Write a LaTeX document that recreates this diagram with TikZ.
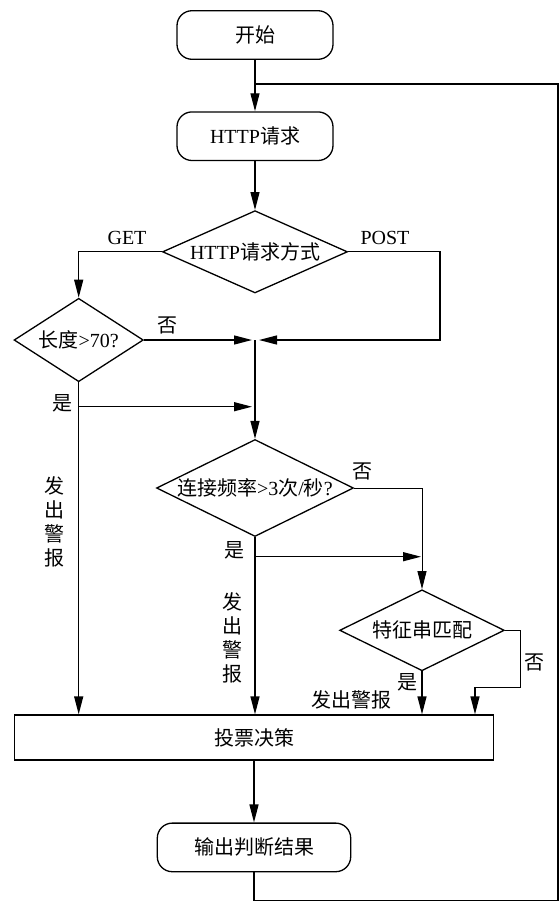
\documentclass[tikz,border=0pt]{standalone}
\usepackage{fontspec}
\setmainfont{Liberation Serif}
\newfontfamily\cjk{Noto Sans CJK SC}
\usetikzlibrary{shapes.geometric,arrows.meta,calc}
\begin{document}
\begin{tikzpicture}[x=1pt,y=-1pt,line width=1.3pt,
  font=\fontsize{20}{24}\selectfont,
  term/.style={draw,rounded corners=15pt,minimum width=156pt,minimum height=48.6pt,inner sep=0pt},
  dec/.style={draw,diamond,inner sep=0pt},
  votebox/.style={draw,rectangle,inner sep=0pt},
  arr/.style={-{Triangle[length=18pt,width=9pt]}},
  lbl/.style={inner sep=0pt},
  zh/.style={inner sep=0pt,font=\fontsize{20}{24}\selectfont\cjk,align=center}
]
\useasboundingbox (0,0) rectangle (560,903);

% nodes
\node[term] (start) at (255,35) {{\cjk 开始}};
\node[term] (http) at (255,136.2) {HTTP{\cjk 请求}};
\node[dec,minimum width=185pt,minimum height=82.3pt] (d1) at (255,251.8) {\makebox[0pt]{HTTP{\cjk 请求方式}}};
\node[dec,minimum width=129.3pt,minimum height=83.4pt] (d2) at (78.7,340) {\makebox[0pt]{{\cjk 长度}>70?}};
\node[dec,minimum width=197pt,minimum height=97pt] (d3) at (255,488) {\makebox[0pt]{{\cjk 连接频率}>3{\cjk 次}/{\cjk 秒}?}};
\node[dec,minimum width=164.7pt,minimum height=81pt] (d4) at (422,630.3) {\makebox[0pt]{\cjk 特征串匹配}};
\node[votebox,minimum width=478.6pt,minimum height=45pt] (vote) at (254,737.5) {{\cjk 投票决策}};
\node[term,minimum width=193.4pt] (out) at (254,847.4) {{\cjk 输出判断结果}};

% helper coordinates
\coordinate (fbA) at (255,84);
\coordinate (fbB) at (558,900.5);
\coordinate (m1) at (255,340);
\coordinate (postR) at (440,340);
\coordinate (yes1) at (78.7,406.7);
\coordinate (yes1e) at (252,406.7);
\coordinate (yes3) at (255,556.7);
\coordinate (yes3e) at (421,556.7);
\coordinate (no4a) at (520.7,687.3);
\coordinate (no4b) at (475,687.3);

% connectors
\draw[arr] (start) -- (http);
\draw (out.south) |- (fbB) |- (fbA);
\draw[arr] (http) -- (d1);
\draw[arr] (d1.west) -| (d2.north);
\draw[arr] (d1.east) -| (postR) -- ([xshift=4pt]m1);
\draw[arr] (d2.east) -- ([xshift=-3pt]m1);
\draw[arr] (m1) -- (d3.north);
\draw[arr] (d2.south) -- (d2.south |- vote.north);
\draw[arr] (yes1) -- (yes1e);
\draw[arr,line width=0.8pt] (d3.east) -| (d4.north);
\draw[arr] (d3.south) -- (d3.south |- vote.north);
\draw[arr] (yes3) -- (yes3e);
\draw[arr] (d4.south) -- (d4.south |- vote.north);
\draw[arr] (d4.east) -| (no4a) -- (no4b) -- (no4b |- vote.north);
\draw[arr] (vote) -- (out);

% labels
\node[lbl] (lget) at (127,237.5) {GET};
\node[lbl] (lpost) at (385,238) {POST};
\node[zh] (lno2) at (167,325) {否};
\node[zh] (lyes2) at (62,403) {是};
\node[zh] (lalarm1) at (54,522) {发\\出\\警\\报};
\node[zh] (lno3) at (362,471) {否};
\node[zh] (lyes3) at (234,550) {是};
\node[zh] (lalarm2) at (232,638) {发\\出\\警\\报};
\node[zh] (lno4) at (534,662) {否};
\node[zh] (lyes4) at (407.5,682) {是};
\node[zh] (lalarm3) at (351,700) {发出警报};
\end{tikzpicture}
\end{document}
